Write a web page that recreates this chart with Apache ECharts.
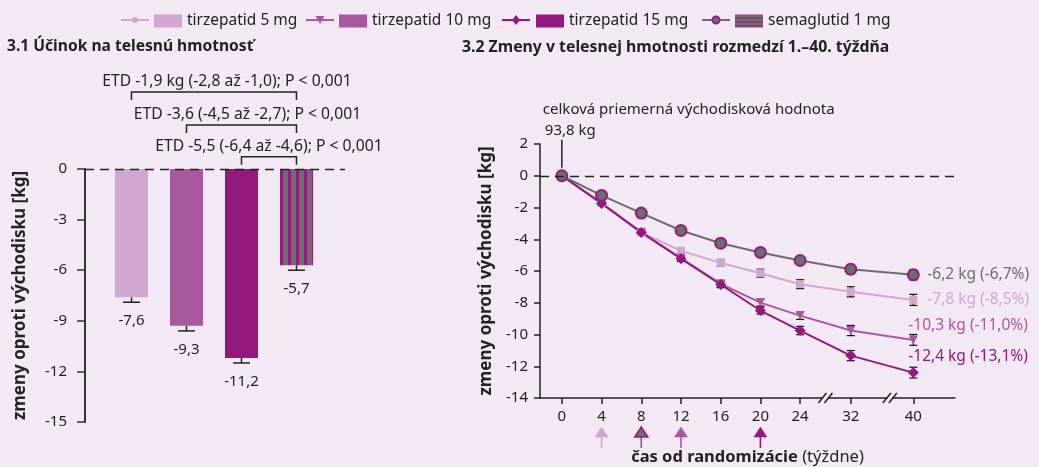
<!DOCTYPE html>
<html><head><meta charset="utf-8">
<script src="https://cdn.jsdelivr.net/npm/echarts@6/dist/echarts.min.js"></script>
<style>html,body{margin:0;padding:0;background:#f3e9f4}#c{width:1039px;height:467px}</style>
</head><body><div id="c"></div><script>
// ---------- data ----------
const seriesNames = ['tirzepatid 5 mg', 'tirzepatid 10 mg', 'tirzepatid 15 mg', 'semaglutid 1 mg'];
// 3.1 bars (change from baseline at week 40, kg)
const barValues = [-7.6, -9.3, -11.2, -5.7];
const barErrors = [0.3, 0.3, 0.3, 0.3];
const etdLabels = ['ETD -1,9 kg (-2,8 až -1,0); P < 0,001', 'ETD -3,6 (-4,5 až -2,7); P < 0,001', 'ETD -5,5 (-6,4 až -4,6); P < 0,001'];
const etdPairs = [[0, 3], [1, 3], [2, 3]];
// 3.2 lines
const weeks = [0, 4, 8, 12, 16, 20, 24, 32, 40];
const tirz5 = [0, -1.72, -3.57, -4.73, -5.49, -6.14, -6.83, -7.31, -7.82];
const tirz10 = [0, -1.72, -3.57, -5.19, -6.81, -7.99, -8.81, -9.75, -10.34];
const tirz15 = [0, -1.75, -3.57, -5.23, -6.85, -8.49, -9.75, -11.33, -12.4];
const sema = [0, -1.24, -2.35, -3.45, -4.25, -4.83, -5.34, -5.89, -6.24];
const err5 = [0, 0.08, 0.12, 0.17, 0.22, 0.25, 0.28, 0.32, 0.35];
const err10 = [0, 0.08, 0.12, 0.17, 0.2, 0.22, 0.24, 0.32, 0.34];
const err15 = [0, 0.08, 0.12, 0.17, 0.2, 0.22, 0.26, 0.32, 0.34];
const errSema = [0, 0.07, 0.1, 0.13, 0.18, 0.2, 0.22, 0.3, 0.32];
const endLabels = ['-7,8 kg (-8,5%)', '-10,3 kg (-11,0%)', '-12,4 kg (-13,1%)', '-6,2 kg (-6,7%)'];
const baselineText = ['celková priemerná východisková hodnota', '93,8 kg'];
const arrowWeeks = [4, 8, 12, 20];       // dose escalation end per arm
const arrowArm = [0, 3, 1, 2];
const breakWeeks = [28, 37];
// broken x-axis: week -> axis position
const axisWeekAnchors = [0, 24, 32, 40];
const axisPosAnchors = [0, 24, 29.1, 35.4];

// ---------- styles ----------
const C = ['#d0a7d1', '#aa589d', '#93197c', '#6d6d6d'];
const CP = '#951c80';
const TXT = '#222';
const FONT = 'Noto Sans';

function axisPos(w) {
  for (let i = 1; i < axisWeekAnchors.length; i++) {
    if (w <= axisWeekAnchors[i]) {
      const t = (w - axisWeekAnchors[i - 1]) / (axisWeekAnchors[i] - axisWeekAnchors[i - 1]);
      return axisPosAnchors[i - 1] + t * (axisPosAnchors[i] - axisPosAnchors[i - 1]);
    }
  }
  return axisPosAnchors[axisPosAnchors.length - 1];
}
function makePattern(w, h, draw) {
  const c = document.createElement('canvas'); c.width = w; c.height = h;
  draw(c.getContext('2d')); return { image: c, repeat: 'repeat' };
}
const semaBarFill = makePattern(8, 8, ctx => { ctx.fillStyle = C[3]; ctx.fillRect(0, 0, 8, 8); ctx.fillStyle = CP; ctx.fillRect(0, 0, 3, 8); });
const semaLegendFill = makePattern(8, 4, ctx => { ctx.fillStyle = C[3]; ctx.fillRect(0, 0, 8, 4); ctx.fillStyle = CP; ctx.fillRect(0, 3, 8, 1); });

const lineSets = [tirz5, tirz10, tirz15, sema];
const errSets = [err5, err10, err15, errSema];
const symbols = ['rect', 'triangle', 'diamond', 'circle'];
const symbolSizes = [8, 9, 11, 11];
const endOffsets = [[9, 0], [-10, -14], [-10, -16], [9, 0]];

const chart = echarts.init(document.getElementById('c'), null, { renderer: 'canvas' });

const series = [];
// bars
barValues.forEach((v, i) => {
  series.push({
    type: 'bar', name: seriesNames[i], xAxisIndex: 0, yAxisIndex: 0,
    data: [[i + 1, v]], barWidth: 33, barGap: '-100%', z: 2,
    itemStyle: { color: i === 3 ? semaBarFill : C[i] },
    label: { show: true, position: 'bottom', distance: 16, fontSize: 15, color: TXT, fontFamily: FONT,
      formatter: p => p.value[1].toFixed(1).replace('.', ',') },
    markLine: i === 0 ? { silent: true, symbol: 'none', label: { show: false },
      lineStyle: { type: [9, 6], color: TXT, width: 1.3 }, data: [{ yAxis: 0 }] } : undefined
  });
});
// bar error whiskers
series.push({
  type: 'custom', xAxisIndex: 0, yAxisIndex: 0, z: 1, silent: true,
  data: barValues.map((v, i) => [i + 1, v, barErrors[i]]),
  renderItem: (params, api) => {
    const a = api.coord([api.value(0), api.value(1)]);
    const b = api.coord([api.value(0), api.value(1) - api.value(2)]);
    const st = { stroke: TXT, lineWidth: 1.5 };
    return { type: 'group', children: [
      { type: 'line', shape: { x1: a[0], y1: a[1], x2: b[0], y2: b[1] }, style: st },
      { type: 'line', shape: { x1: b[0] - 8.5, y1: b[1], x2: b[0] + 8.5, y2: b[1] }, style: st }
    ] };
  }
});
// ETD brackets
const bracketRise = [77, 44, 12.3];
const etdShift = [13, 6, 0];
series.push({
  type: 'custom', xAxisIndex: 0, yAxisIndex: 0, z: 3, silent: true, clip: false,
  data: etdPairs.map((p, i) => [p[0] + 1, p[1] + 1, i]),
  renderItem: (params, api) => {
    const idx = api.value(2);
    const a = api.coord([api.value(0), 0]);
    const b = api.coord([api.value(1), 0]);
    const y = a[1] - bracketRise[idx];
    return { type: 'group', children: [
      { type: 'polyline', shape: { points: [[a[0], y + 8], [a[0], y], [b[0], y], [b[0], y + 8]] },
        style: { stroke: TXT, lineWidth: 1.5, fill: null } },
      { type: 'text', x: (a[0] + b[0]) / 2 + etdShift[idx], y: y - 10,
        style: { text: etdLabels[idx], align: 'center', verticalAlign: 'middle', fontSize: 15.7, fill: TXT, fontFamily: FONT } }
    ] };
  }
});
// line error bars
lineSets.forEach((vals, k) => {
  series.push({
    type: 'custom', xAxisIndex: 1, yAxisIndex: 1, z: 2, silent: true,
    data: weeks.map((w, i) => [axisPos(w), vals[i], errSets[k][i]]),
    renderItem: (params, api) => {
      const e = api.value(2);
      if (!e) return null;
      const t = api.coord([api.value(0), api.value(1) + e]);
      const b = api.coord([api.value(0), api.value(1) - e]);
      const st = { stroke: '#111', lineWidth: 1.2 };
      return { type: 'group', children: [
        { type: 'line', shape: { x1: t[0], y1: t[1], x2: b[0], y2: b[1] }, style: st },
        { type: 'line', shape: { x1: t[0] - 4, y1: t[1], x2: t[0] + 4, y2: t[1] }, style: st },
        { type: 'line', shape: { x1: b[0] - 4, y1: b[1], x2: b[0] + 4, y2: b[1] }, style: st }
      ] };
    }
  });
});
// lines
lineSets.forEach((vals, k) => {
  series.push({
    type: 'line', name: seriesNames[k], xAxisIndex: 1, yAxisIndex: 1, z: 3 + (k === 3 ? 1 : 0),
    data: weeks.map((w, i) => [axisPos(w), vals[i]]),
    symbol: symbols[k], symbolSize: symbolSizes[k], symbolRotate: k === 1 ? 180 : 0,
    showAllSymbol: true,
    lineStyle: { color: C[k], width: 2 },
    itemStyle: k === 3 ? { color: C[3], borderColor: CP, borderWidth: 2 } : { color: C[k] },
    endLabel: { show: true, formatter: () => endLabels[k], color: C[k], fontSize: 15.5, fontFamily: FONT,
      offset: endOffsets[k], distance: 5 },
    markLine: k === 0 ? { silent: true, symbol: 'none', label: { show: false },
      lineStyle: { type: [9, 6], color: TXT, width: 1.3 }, data: [{ yAxis: 0 }] } : undefined
  });
});
// baseline annotation
series.push({
  type: 'custom', xAxisIndex: 1, yAxisIndex: 1, z: 5, silent: true, clip: false,
  data: [[axisPos(weeks[0]), 0]],
  renderItem: (params, api) => {
    const p = api.coord([api.value(0), api.value(1)]);
    return { type: 'group', children: [
      { type: 'line', shape: { x1: p[0], y1: p[1] - 8, x2: p[0], y2: p[1] - 36 }, style: { stroke: TXT, lineWidth: 1.5 } },
      { type: 'text', x: p[0] - 19, y: p[1] - 66, style: { text: baselineText[0], verticalAlign: 'middle', fontSize: 15, fill: TXT, fontFamily: FONT } },
      { type: 'text', x: p[0] - 17, y: p[1] - 45, style: { text: baselineText[1], verticalAlign: 'middle', fontSize: 15, fill: TXT, fontFamily: FONT } }
    ] };
  }
});
// axis break marks
series.push({
  type: 'custom', xAxisIndex: 1, yAxisIndex: 1, z: 6, silent: true, clip: false,
  data: breakWeeks.map(w => [axisPos(w), -14]),
  renderItem: (params, api) => {
    const p = api.coord([api.value(0), api.value(1)]);
    const st = { stroke: TXT, lineWidth: 1.5 };
    return { type: 'group', children: [
      { type: 'rect', shape: { x: p[0] - 2.5, y: p[1] - 2, width: 5, height: 4 }, style: { fill: '#f3e9f4' } },
      { type: 'line', shape: { x1: p[0] - 7, y1: p[1] + 5, x2: p[0] + 1, y2: p[1] - 5 }, style: st },
      { type: 'line', shape: { x1: p[0] - 1, y1: p[1] + 5, x2: p[0] + 7, y2: p[1] - 5 }, style: st }
    ] };
  }
});
// dose-escalation arrows
series.push({
  type: 'custom', xAxisIndex: 1, yAxisIndex: 1, z: 6, silent: true, clip: false,
  data: arrowWeeks.map((w, i) => [axisPos(w), -14, arrowArm[i]]),
  renderItem: (params, api) => {
    const p = api.coord([api.value(0), api.value(1)]);
    const arm = api.value(2);
    const isSema = arm === 3;
    const col = C[arm];
    const tip = p[1] + 29, base = p[1] + 39, end = p[1] + 50;
    return { type: 'group', children: [
      { type: 'line', shape: { x1: p[0], y1: base, x2: p[0], y2: end }, style: { stroke: col, lineWidth: 1.6 } },
      { type: 'polygon', shape: { points: [[p[0], tip], [p[0] - 6.5, base], [p[0] + 6.5, base]] },
        style: { fill: col, stroke: isSema ? CP : col, lineWidth: isSema ? 1.6 : 0.5 } }
    ] };
  }
});

// legend line icons
const legLineX = [121, 306, 502, 702];
const graphic = [];
legLineX.forEach((x, k) => {
  const cx = x + 14, cy = 20;
  graphic.push({ type: 'line', shape: { x1: x, y1: cy, x2: x + 28, y2: cy }, style: { stroke: C[k], lineWidth: 2 }, silent: true });
  let shp;
  if (k === 0) shp = { type: 'circle', shape: { cx, cy, r: 3 }, style: { fill: C[0] } };
  else if (k === 1) shp = { type: 'polygon', shape: { points: [[cx - 4.5, cy - 4], [cx + 4.5, cy - 4], [cx, cy + 4]] }, style: { fill: C[1] } };
  else if (k === 2) shp = { type: 'polygon', shape: { points: [[cx, cy - 5], [cx + 4, cy], [cx, cy + 5], [cx - 4, cy]] }, style: { fill: C[2] } };
  else shp = { type: 'circle', shape: { cx, cy, r: 3.5 }, style: { fill: C[3], stroke: CP, lineWidth: 2 } };
  shp.silent = true;
  graphic.push(shp);
});
const legSquareX = [154, 339, 536, 735];

const option = {
  animation: false,
  backgroundColor: '#f3e9f4',
  textStyle: { fontFamily: FONT },
  title: [
    { text: '3.1 Účinok na telesnú hmotnosť', left: 7, top: 39, padding: 0, textStyle: { fontSize: 15.6, fontWeight: 'bold', color: TXT, fontFamily: FONT } },
    { text: '3.2 Zmeny v telesnej hmotnosti rozmedzí 1.–40. týždňa', left: 462, top: 39, padding: 0, textStyle: { fontSize: 15.8, fontWeight: 'bold', color: TXT, fontFamily: FONT } }
  ],
  legend: seriesNames.map((n, i) => ({
    data: [i === 3 ? { name: n, icon: 'rect', itemStyle: { color: semaLegendFill } } : { name: n, icon: 'rect' }],
    left: legSquareX[i], top: 13, itemWidth: 28, itemHeight: 13, selectedMode: false, padding: 0,
    textStyle: { fontSize: 15.5, color: TXT, fontFamily: FONT }
  })),
  graphic,
  grid: [
    { left: 85, right: 694, top: 169, bottom: 45, outerBoundsMode: 'none', containLabel: false },
    { left: 540, right: 84, top: 144, bottom: 69, outerBoundsMode: 'none', containLabel: false }
  ],
  xAxis: [
    { gridIndex: 0, type: 'value', min: 0.155, max: 4.882, show: false },
    { gridIndex: 1, type: 'value', min: -2.2, max: 39.6,
      axisLine: { show: true, onZero: false, lineStyle: { color: TXT, width: 1.5 } },
      axisTick: { show: true, length: 6, customValues: weeks.map(axisPos), lineStyle: { color: TXT, width: 1.5 } },
      axisLabel: { customValues: weeks.map(axisPos), margin: 11, fontSize: 15, color: TXT, fontFamily: FONT,
        formatter: v => { const i = weeks.findIndex(w => Math.abs(axisPos(w) - v) < 1e-6); return i >= 0 ? String(weeks[i]) : ''; } },
      splitLine: { show: false },
      name: '{b|čas od randomizácie} (týždne)', nameLocation: 'middle', nameGap: 51,
      nameTextStyle: { fontSize: 16.5, color: TXT, fontFamily: FONT, rich: { b: { fontSize: 16.5, fontWeight: 'bold', color: TXT, fontFamily: FONT } } }
    }
  ],
  yAxis: [
    { gridIndex: 0, type: 'value', min: -15, max: 0, interval: 3,
      axisLine: { show: true, lineStyle: { color: '#333', width: 2 } },
      axisTick: { show: true, length: 8, lineStyle: { color: '#333', width: 1.5 } },
      axisLabel: { margin: 18, fontSize: 15, color: TXT, fontFamily: FONT },
      splitLine: { show: false },
      name: 'zmeny oproti východisku [kg]', nameLocation: 'middle', nameGap: 56,
      nameTextStyle: { fontSize: 17, fontWeight: 'bold', color: TXT, fontFamily: FONT }
    },
    { gridIndex: 1, type: 'value', min: -14, max: 2, interval: 2,
      axisLine: { show: true, onZero: false, lineStyle: { color: TXT, width: 1.5 } },
      axisTick: { show: true, length: 6, lineStyle: { color: TXT, width: 1.5 } },
      axisLabel: { margin: 12, fontSize: 15, color: TXT, fontFamily: FONT },
      splitLine: { show: false },
      name: 'zmeny oproti východisku [kg]', nameLocation: 'middle', nameGap: 45,
      nameTextStyle: { fontSize: 17, fontWeight: 'bold', color: TXT, fontFamily: FONT }
    }
  ],
  series
};
chart.setOption(option);
</script></body></html>
